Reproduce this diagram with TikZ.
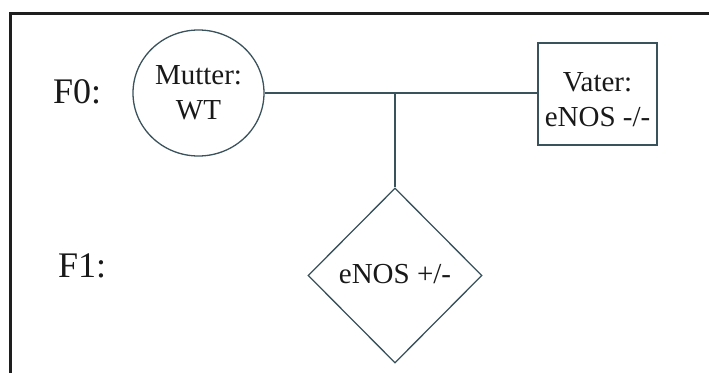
\documentclass[tikz,border=0pt]{standalone}
\usepackage{fontspec}
\setmainfont{Liberation Serif}
\usetikzlibrary{shapes.geometric}
\definecolor{linec}{RGB}{58,82,92}
\definecolor{textc}{RGB}{25,25,25}
\definecolor{framec}{RGB}{30,30,30}
\tikzset{
  shapeline/.style={draw=linec, line width=1.3pt, inner sep=0pt, text=textc,
    font=\fontsize{29}{35}\selectfont, align=center},
  gen/.style={text=textc, font=\fontsize{36}{40}\selectfont, inner sep=0pt, anchor=base west},
  conn/.style={draw=linec, line width=1.3pt}
}
\begin{document}
\begin{tikzpicture}[x=1pt,y=-1pt]
\useasboundingbox (0,0) rectangle (709,372);
\draw[framec, line width=3pt] (10,373) -- (10,13) -- (710,13);
\node[gen] (f0) at (53,103) {F0:};
\node[gen] (f1) at (58,277) {F1:};
\node[shapeline, ellipse, minimum width=131pt, minimum height=126pt] (mutter) at (198.5,93) {Mutter:\\WT};
\node[shapeline, rectangle, minimum width=119pt, minimum height=102pt] (vater) at (597.5,94) {\rule{0pt}{31pt}Vater:\\eNOS -/-};
\node[shapeline, diamond, minimum width=174pt, minimum height=175pt, text height=20pt, text depth=4pt] (kind) at (395,275.5) {eNOS +/-};
\coordinate (j) at (kind.north |- mutter.east);
\coordinate (v) at (vater.west |- mutter.east);
\draw[conn] (mutter.east) -- (v);
\draw[conn] (j) -- (kind.north);
\end{tikzpicture}
\end{document}
